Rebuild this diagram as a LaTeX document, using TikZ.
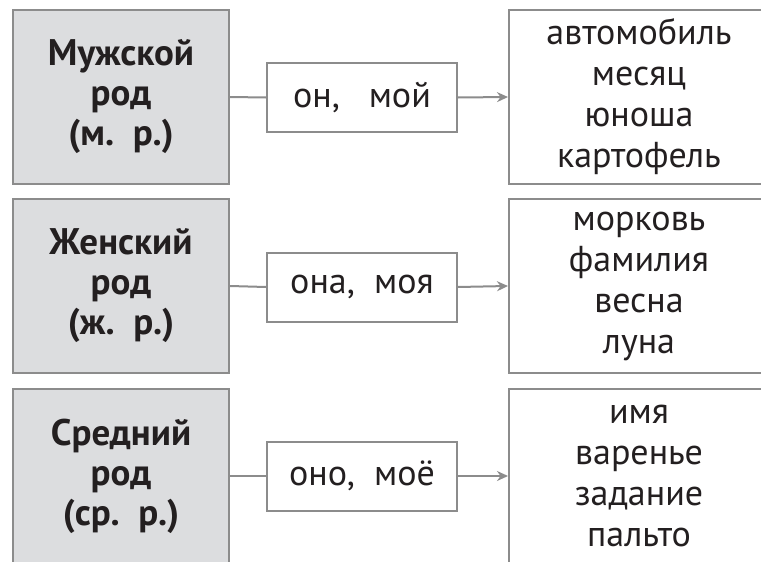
\documentclass[tikz,border=0pt]{standalone}
\usepackage{fontspec}
\setmainfont{PT Sans}
\usetikzlibrary{arrows.meta}
\definecolor{boxline}{HTML}{8C8C8C}
\definecolor{boxfill}{HTML}{DCDDDF}
\definecolor{ink}{HTML}{231F20}
\tikzset{
  genbox/.style={draw=boxline, line width=2pt, fill=boxfill, minimum width=216pt, minimum height=174pt, inner sep=0pt, align=center, text=ink, font=\fontsize{37}{40}\selectfont\bfseries},
  pronbox/.style={draw=boxline, line width=2pt, fill=white, minimum width=190pt, minimum height=69pt, inner sep=0pt, align=center, text=ink, font=\fontsize{36}{40}\selectfont},
  wordbox/.style={draw=boxline, line width=2pt, fill=white, minimum width=260pt, minimum height=174pt, inner sep=0pt, align=center, text=ink, font=\fontsize{36}{41}\selectfont},
  link/.style={draw=boxline, line width=2pt},
  arrowlink/.style={draw=boxline, line width=2pt, -{Stealth[length=11pt,width=10pt]}}
}
\begin{document}
\begin{tikzpicture}[x=1pt,y=-1pt]
\useasboundingbox (0,0) rectangle (761,562);
\clip (0,0) rectangle (761,562);
% row 1
\node[genbox] (g1) at (121,97) {Мужской\\род\\(м.~~р.)};
\node[pronbox] (p1) at (362,97.5) {он,~~~мой};
\node[wordbox] (w1) at (639,97) {автомобиль\\месяц\\юноша\\картофель};
\draw[link] (g1.east) -- (p1.west);
\draw[arrowlink] (p1.east) -- (w1.west);
% row 2
\node[genbox] (g2) at (121,286) {Женский\\род\\(ж.~~р.)};
\node[pronbox] (p2) at (362,287) {она,~~моя};
\node[wordbox] (w2) at (639,286) {морковь\\фамилия\\весна\\луна};
\draw[link] (g2.east) -- (p2.west);
\draw[arrowlink] (p2.east) -- (w2.west);
% row 3
\node[genbox] (g3) at (121,476) {Средний\\род\\(ср.~~р.)};
\node[pronbox] (p3) at (362,476) {оно,~~моё};
\node[wordbox] (w3) at (639,476) {имя\\варенье\\задание\\пальто};
\draw[link] (g3.east) -- (p3.west);
\draw[arrowlink] (p3.east) -- (w3.west);
\end{tikzpicture}
\end{document}
